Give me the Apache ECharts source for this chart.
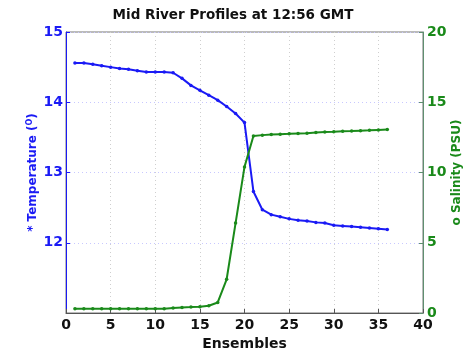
<!DOCTYPE html>
<html>
<head>
<meta charset="utf-8">
<script src="https://cdn.jsdelivr.net/npm/echarts@6/dist/echarts.min.js"></script>
<style>
html, body { margin: 0; padding: 0; background: #fff; }
#chart { width: 466px; height: 351px; }
</style>
</head>
<body>
<div id="chart"></div>
<script>
"use strict";
var ensembles = [1, 2, 3, 4, 5, 6, 7, 8, 9, 10, 11, 12, 13, 14, 15, 16, 17, 18,
	19, 20, 21, 22, 23, 24, 25, 26, 27, 28, 29, 30, 31, 32, 33, 34, 35, 36];
var temperature = [14.56, 14.56, 14.54, 14.52, 14.50, 14.48, 14.47, 14.45, 14.43, 14.43, 14.43, 14.42,
	14.34, 14.24, 14.17, 14.10, 14.03, 13.94, 13.84, 13.71, 12.73, 12.47, 12.40, 12.37,
	12.34, 12.32, 12.31, 12.29, 12.28, 12.25, 12.24, 12.23, 12.22, 12.21, 12.20, 12.19];
var salinity = [0.3, 0.3, 0.3, 0.3, 0.3, 0.3, 0.3, 0.3, 0.3, 0.3, 0.3, 0.35,
	0.4, 0.42, 0.45, 0.52, 0.75, 2.4, 6.4, 10.4, 12.6, 12.66, 12.71, 12.73,
	12.75, 12.78, 12.8, 12.85, 12.88, 12.9, 12.93, 12.95, 12.98, 13.0, 13.03, 13.06];

var blue = '#1a1af5';
var green = '#1a8a1a';
var font = 'DejaVu Sans';

function pairs(ys) {
	return ensembles.map(function(x, i) { return [x, ys[i]]; });
}

var chart = echarts.init(document.getElementById('chart'), null, { renderer: 'canvas' });

chart.setOption({
	animation : false,
	title : {
		text : 'Mid River Profiles at 12:56 GMT',
		left : 'center',
		top : 3,
		textStyle : { fontFamily : font, fontSize : 13.5, fontWeight : 'bold', color : '#111' }
	},
	grid : {
		left : 66, right : 43, top : 32, bottom : 38,
		outerBoundsMode : 'none',
		show : true, borderColor : '#777', borderWidth : 1
	},
	xAxis : {
		type : 'value', min : 0, max : 40, interval : 5,
		name : 'Ensembles', nameLocation : 'middle', nameGap : 20,
		nameTextStyle : { fontFamily : font, fontSize : 14, fontWeight : 'bold', color : '#111' },
		axisLine : { lineStyle : { color : '#555' } },
		axisTick : { inside : true, length : 4, lineStyle : { color : '#555' } },
		axisLabel : { fontFamily : font, fontSize : 14, fontWeight : 'bold', color : '#111', margin : 5 },
		splitLine : { show : true, lineStyle : { color : '#cfcfcf', type : [1, 3] } }
	},
	yAxis : [ {
		type : 'value', min : 11, max : 15, interval : 1,
		name : '* Temperature ({s|O})', nameLocation : 'middle', nameGap : 26,
		nameMoveOverlap : false,
		nameTextStyle : { fontFamily : font, fontSize : 12, fontWeight : 'bold', color : blue,
			rich : { s : { fontFamily : font, fontSize : 8, fontWeight : 'bold', color : blue, verticalAlign : 'top', padding : [0, 0, 6, 0] } } },
		axisLine : { show : true, lineStyle : { color : blue } },
		axisTick : { inside : true, length : 4, lineStyle : { color : blue } },
		axisLabel : { fontFamily : font, fontSize : 14, fontWeight : 'bold', color : blue, margin : 3, showMinLabel : false },
		splitLine : { show : true, lineStyle : { color : '#c8c8ff', type : [1, 3] } }
	}, {
		type : 'value', min : 0, max : 20, interval : 5, position : 'right',
		name : 'o Salinity (PSU)', nameLocation : 'middle', nameGap : 28, nameRotate : 90,
		nameMoveOverlap : false,
		nameTextStyle : { fontFamily : font, fontSize : 12, fontWeight : 'bold', color : green },
		axisLine : { show : true, lineStyle : { color : '#5f8f70' } },
		axisTick : { inside : true, length : 4, lineStyle : { color : '#5f8f70' } },
		axisLabel : { fontFamily : font, fontSize : 14, fontWeight : 'bold', color : green, margin : 4 },
		splitLine : { show : false }
	} ],
	series : [ {
		name : 'Temperature',
		type : 'line',
		yAxisIndex : 0,
		data : pairs(temperature),
		symbol : 'circle', symbolSize : 3.5,
		lineStyle : { color : blue, width : 2 },
		itemStyle : { color : blue }
	}, {
		name : 'Salinity',
		type : 'line',
		yAxisIndex : 1,
		data : pairs(salinity),
		symbol : 'circle', symbolSize : 3.5,
		lineStyle : { color : green, width : 2 },
		itemStyle : { color : green }
	} ]
});
</script>
</body>
</html>
